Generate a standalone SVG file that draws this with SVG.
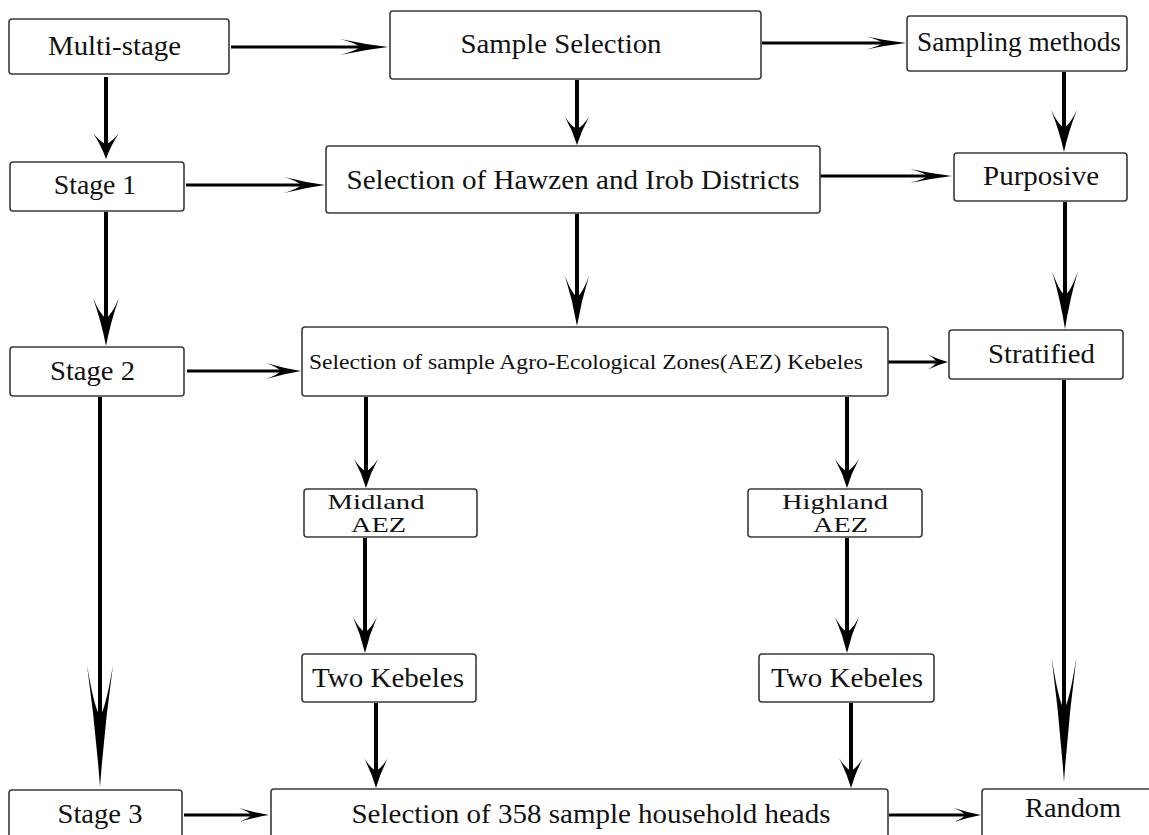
<svg xmlns="http://www.w3.org/2000/svg" xmlns:xlink="http://www.w3.org/1999/xlink" width="1149" height="835" viewBox="0 0 1149 835">
<style>
.box{fill:#fff;stroke:#3a3a3a;stroke-width:1.6}
.t{font-family:"Liberation Serif","Times New Roman",serif;font-size:27px;fill:#111;text-anchor:middle}
.ts{font-size:21.5px}
.tm{font-size:22px}
.h{stroke:#000;stroke-width:3;fill:none}
.v{stroke:#000;stroke-width:4;fill:none}
.ah{fill:#000}
</style>
<defs>
<path id="ah" d="M0,0 Q-0.5,-0.35 -1,-1 Q-0.65,-0.45 -0.58,0 Q-0.65,0.45 -1,1 Q-0.5,0.35 0,0 Z"/>
</defs>
<rect width="1149" height="835" fill="#fff"/>
<g id="connectors">
<line class="h" x1="231" y1="47" x2="365" y2="47"/><use href="#ah" class="ah" transform="translate(388,47) scale(48,8)"/>
<line class="h" x1="762" y1="43" x2="885" y2="43"/><use href="#ah" class="ah" transform="translate(906,43) scale(40,6.5)"/>
<line class="h" x1="186" y1="185" x2="305" y2="185"/><use href="#ah" class="ah" transform="translate(325,185) scale(41,8)"/>
<line class="h" x1="820" y1="176" x2="930" y2="176"/><use href="#ah" class="ah" transform="translate(952,176) scale(42,7)"/>
<line class="h" x1="187" y1="371" x2="283" y2="371"/><use href="#ah" class="ah" transform="translate(301,371) scale(35,8)"/>
<line class="h" x1="888" y1="362" x2="938" y2="362"/><use href="#ah" class="ah" transform="translate(948,362) scale(20,7.5)"/>
<line class="h" x1="184" y1="815" x2="255" y2="815"/><use href="#ah" class="ah" transform="translate(269,815) scale(30,7)"/>
<line class="h" x1="889" y1="815" x2="967" y2="815"/><use href="#ah" class="ah" transform="translate(981,815) scale(27,7)"/>
<line class="v" x1="106" y1="77" x2="106" y2="147"/><use href="#ah" class="ah" transform="translate(106,159) rotate(90) scale(26,13)"/>
<line class="v" x1="577" y1="80" x2="577" y2="131"/><use href="#ah" class="ah" transform="translate(577,145) rotate(90) scale(28,12)"/>
<line class="v" x1="1064" y1="72" x2="1064" y2="132"/><use href="#ah" class="ah" transform="translate(1064,152) rotate(90) scale(42,13)"/>
<line class="v" x1="106" y1="212" x2="106" y2="322"/><use href="#ah" class="ah" transform="translate(106,346) rotate(90) scale(48,13)"/>
<line class="v" x1="577" y1="214" x2="577" y2="302"/><use href="#ah" class="ah" transform="translate(577,326) rotate(90) scale(50,12)"/>
<line class="v" x1="1065" y1="202" x2="1065" y2="300"/><use href="#ah" class="ah" transform="translate(1065,329) rotate(90) scale(58,13)"/>
<line class="v" x1="366" y1="397" x2="366" y2="474"/><use href="#ah" class="ah" transform="translate(366,488) rotate(90) scale(29,12)"/>
<line class="v" x1="847" y1="397" x2="847" y2="474"/><use href="#ah" class="ah" transform="translate(847,488) rotate(90) scale(29,12)"/>
<line class="v" x1="365" y1="538" x2="365" y2="636"/><use href="#ah" class="ah" transform="translate(365,653) rotate(90) scale(36,12)"/>
<line class="v" x1="847" y1="538" x2="847" y2="636"/><use href="#ah" class="ah" transform="translate(847,653) rotate(90) scale(36,12)"/>
<line class="v" x1="376" y1="703" x2="376" y2="774"/><use href="#ah" class="ah" transform="translate(376,788) rotate(90) scale(30,12)"/>
<line class="v" x1="851" y1="703" x2="851" y2="774"/><use href="#ah" class="ah" transform="translate(851,788) rotate(90) scale(30,12)"/>
<line class="v" x1="100" y1="397" x2="100" y2="730"/><use href="#ah" class="ah" transform="translate(100,787) rotate(90) scale(122,13)"/>
<line class="v" x1="1064" y1="380" x2="1064" y2="725"/><use href="#ah" class="ah" transform="translate(1064,782) rotate(90) scale(125,12.5)"/>
</g>
<g id="multi-stage"><rect class="box" x="9" y="19" width="220" height="55" rx="3"/><text class="t" x="114.5" y="55" textLength="133" lengthAdjust="spacingAndGlyphs">Multi-stage</text></g>
<g id="sample-selection"><rect class="box" x="390" y="11" width="371" height="68" rx="3"/><text class="t" x="561" y="52.5" textLength="201" lengthAdjust="spacingAndGlyphs">Sample Selection</text></g>
<g id="sampling-methods"><rect class="box" x="907" y="16" width="220" height="55" rx="3"/><text class="t" x="1019" y="51" textLength="204" lengthAdjust="spacingAndGlyphs">Sampling methods</text></g>
<g id="stage1"><rect class="box" x="10" y="162" width="174" height="49" rx="3"/><text class="t" x="95" y="194" textLength="82.5" lengthAdjust="spacingAndGlyphs">Stage 1</text></g>
<g id="hawzen-irob"><rect class="box" x="326" y="146" width="494" height="67" rx="3"/><text class="t" x="573" y="189" textLength="453" lengthAdjust="spacingAndGlyphs">Selection of Hawzen and Irob Districts</text></g>
<g id="purposive"><rect class="box" x="954" y="153" width="173" height="48" rx="3"/><text class="t" x="1041" y="185" textLength="116" lengthAdjust="spacingAndGlyphs">Purposive</text></g>
<g id="stage2"><rect class="box" x="10" y="347" width="174" height="49" rx="3"/><text class="t" x="92.5" y="380" textLength="85" lengthAdjust="spacingAndGlyphs">Stage 2</text></g>
<g id="aez-kebeles"><rect class="box" x="302" y="327" width="586" height="69" rx="3"/><text class="t ts" x="586" y="369" textLength="554" lengthAdjust="spacingAndGlyphs">Selection of sample Agro-Ecological Zones(AEZ) Kebeles</text></g>
<g id="stratified"><rect class="box" x="949" y="330" width="174" height="49" rx="3"/><text class="t" x="1041.5" y="363" textLength="107" lengthAdjust="spacingAndGlyphs">Stratified</text></g>
<g id="midland-aez"><rect class="box" x="304" y="489" width="173" height="48" rx="3"/><text class="t tm" x="376" y="508.5" textLength="97" lengthAdjust="spacingAndGlyphs">Midland</text><text class="t tm" x="378.5" y="532" textLength="55" lengthAdjust="spacingAndGlyphs">AEZ</text></g>
<g id="highland-aez"><rect class="box" x="748" y="489" width="174" height="48" rx="3"/><text class="t tm" x="835" y="508.5" textLength="106" lengthAdjust="spacingAndGlyphs">Highland</text><text class="t tm" x="840.5" y="532" textLength="55" lengthAdjust="spacingAndGlyphs">AEZ</text></g>
<g id="two-kebeles-left"><rect class="box" x="302" y="654" width="174" height="48" rx="3"/><text class="t" x="388" y="686.5" textLength="152" lengthAdjust="spacingAndGlyphs">Two Kebeles</text></g>
<g id="two-kebeles-right"><rect class="box" x="759" y="654" width="175" height="48" rx="3"/><text class="t" x="847" y="686.5" textLength="152" lengthAdjust="spacingAndGlyphs">Two Kebeles</text></g>
<g id="stage3"><rect class="box" x="9" y="790" width="173" height="70" rx="3"/><text class="t" x="100" y="822.5" textLength="85" lengthAdjust="spacingAndGlyphs">Stage 3</text></g>
<g id="household-heads"><rect class="box" x="271" y="789" width="617" height="70" rx="3"/><text class="t" x="591" y="822.5" textLength="479" lengthAdjust="spacingAndGlyphs">Selection of 358 sample household heads</text></g>
<g id="random"><rect class="box" x="982" y="789" width="200" height="70" rx="3"/><text class="t" x="1073" y="816.5" textLength="96" lengthAdjust="spacingAndGlyphs">Random</text></g>
</svg>
